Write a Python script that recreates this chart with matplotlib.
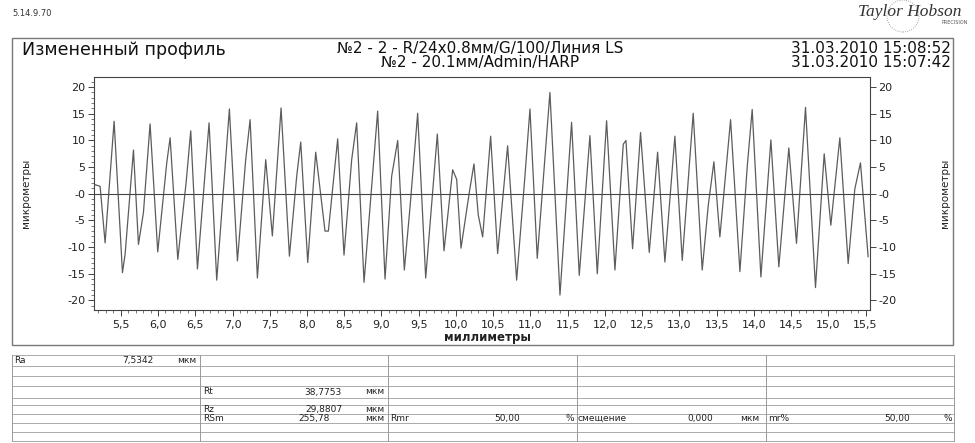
import matplotlib
matplotlib.use('Agg')
import matplotlib.pyplot as plt
from matplotlib.patches import Rectangle, Circle
from matplotlib.lines import Line2D
from matplotlib.ticker import MultipleLocator

# профиль (мм, мкм)
profile_x = [5.155, 5.222, 5.289, 5.410, 5.522, 5.558, 5.670, 5.737, 5.804, 5.893,
             5.996, 6.117, 6.162, 6.265, 6.377, 6.439, 6.529, 6.685, 6.788, 6.958,
             7.066, 7.177, 7.236, 7.334, 7.446, 7.535, 7.652, 7.764, 7.862, 7.916,
             8.010, 8.117, 8.242, 8.287, 8.412, 8.497, 8.600, 8.667, 8.766, 8.949,
             9.048, 9.137, 9.218, 9.307, 9.383, 9.486, 9.594, 9.750, 9.840, 9.956,
             10.010, 10.068, 10.180, 10.242, 10.300, 10.359, 10.466, 10.560, 10.694, 10.815,
             10.927, 10.994, 11.092, 11.262, 11.397, 11.553, 11.656, 11.799, 11.898, 12.023,
             12.135, 12.247, 12.283, 12.372, 12.479, 12.596, 12.708, 12.806, 12.940, 13.039,
             13.186, 13.307, 13.388, 13.464, 13.544, 13.688, 13.813, 13.911, 13.978, 14.095,
             14.229, 14.336, 14.470, 14.573, 14.694, 14.828, 14.945, 15.034, 15.155, 15.267,
             15.356, 15.432, 15.535]
profile_y = [1.7, 1.4, -9.2, 13.6, -14.8, -11.3, 8.2, -9.5, -3.5, 13.1,
             -10.9, 5.8, 10.5, -12.3, 2.1, 11.8, -14.1, 13.3, -16.2, 15.9,
             -12.6, 6.4, 13.9, -15.8, 6.4, -7.9, 16.1, -11.7, 3.3, 9.7,
             -12.9, 7.8, -7.0, -7.0, 10.3, -11.5, 6.4, 13.3, -16.6, 15.5,
             -16.0, 3.3, 10.0, -14.3, -2.6, 15.1, -15.8, 11.2, -10.7, 4.5,
             2.7, -10.2, 0.3, 5.6, -4.0, -8.1, 10.8, -11.2, 9.0, -16.2,
             3.4, 15.9, -12.1, 19.0, -19.0, 13.4, -15.3, 10.9, -15.0, 13.7,
             -14.3, 9.3, 10.0, -10.3, 11.5, -11.0, 7.8, -12.8, 10.8, -12.5,
             15.1, -14.3, -2.2, 6.0, -8.1, 13.9, -14.6, 5.0, 15.8, -15.6,
             10.1, -13.7, 8.6, -9.3, 16.2, -17.6, 7.5, -5.9, 10.5, -13.1,
             0.9, 5.8, -11.8]

x_ticks = [5.5, 6.0, 6.5, 7.0, 7.5, 8.0, 8.5, 9.0, 9.5, 10.0, 10.5,
           11.0, 11.5, 12.0, 12.5, 13.0, 13.5, 14.0, 14.5, 15.0, 15.5]
x_labels = ['5,5', '6,0', '6,5', '7,0', '7,5', '8,0', '8,5', '9,0', '9,5', '10,0', '10,5',
            '11,0', '11,5', '12,0', '12,5', '13,0', '13,5', '14,0', '14,5', '15,0', '15,5']
y_ticks = [-20, -15, -10, -5, 0, 5, 10, 15, 20]
y_labels = ['-20', '-15', '-10', '-5', '-0', '5', '10', '15', '20']

# таблица параметров: (строка, x, текст, выравнивание)
table_cells = [
    (0, 14, 'Ra', 'left'), (0, 153, '7,5342', 'right'), (0, 177, 'мкм', 'left'),
    (3, 203, 'Rt', 'left'), (3, 342, '38,7753', 'right'), (3, 365, 'мкм', 'left'),
    (5, 203, 'Rz', 'left'), (5, 342, '29,8807', 'right'), (5, 365, 'мкм', 'left'),
    (6, 203, 'RSm', 'left'), (6, 330, '255,78', 'right'), (6, 365, 'мкм', 'left'),
    (6, 390, 'Rmr', 'left'), (6, 520, '50,00', 'right'), (6, 574, '%', 'right'),
    (6, 578, 'смещение', 'left'), (6, 713, '0,000', 'right'), (6, 740, 'мкм', 'left'),
    (6, 768, 'mr%', 'left'), (6, 910, '50,00', 'right'), (6, 952, '%', 'right'),
]
row_lines = [355, 366, 376, 386, 398, 405, 414, 423, 432, 441]
col_lines = [12, 200, 388, 577, 766, 954]

W, H = 975, 443


def fx(x):
    return x / W


def fy(y):
    return 1 - y / H


plt.rcParams['font.family'] = ['DejaVu Sans']
fig = plt.figure(figsize=(W / 100, H / 100), dpi=100)

ax = fig.add_axes([fx(94), fy(310), fx(870) - fx(94), fy(77) - fy(310)])
ax.plot(profile_x, profile_y, color='#5c5c5c', lw=0.9)
ax.axhline(0, color='#444444', lw=0.8)
ax.set_xlim(5.14, 15.56)
ax.set_ylim(-21.8, 21.9)
ax.set_xticks(x_ticks)
ax.set_xticklabels(x_labels)
ax.xaxis.set_minor_locator(MultipleLocator(0.1))
ax.set_yticks(y_ticks)
ax.set_yticklabels(y_labels)
ax.yaxis.set_minor_locator(MultipleLocator(1))
ax.tick_params(which='both', direction='out', colors='#444444', labelcolor='#222222', labelsize=8)
ax.tick_params(axis='y', right=True, labelright=True, pad=1.5)
ax.tick_params(axis='x', pad=2.5)
ax.tick_params(which='major', length=4.5, width=0.7)
ax.tick_params(which='minor', length=2.2, width=0.5)
for s in ax.spines.values():
    s.set_color('#444444')
    s.set_linewidth(0.8)

ax.set_xlabel('миллиметры', fontsize=8.5, fontweight='bold', color='#222222', labelpad=1)
ax.xaxis.set_label_coords((487 - 94) / (870 - 94), -0.09)
fig.text(fx(26), fy(193), 'микрометры', rotation=90, fontsize=7.5, ha='center', va='center', color='#222222')
fig.text(fx(945), fy(193), 'микрометры', rotation=90, fontsize=7.5, ha='center', va='center', color='#222222')

# рамка и заголовки
fig.add_artist(Rectangle((fx(12), fy(345)), fx(953) - fx(12), fy(38) - fy(345),
                         transform=fig.transFigure, fill=False, ec='#777777', lw=1))
fig.text(fx(22), fy(50), 'Измененный профиль', fontsize=12.5, ha='left', va='center', color='#111111')
fig.text(fx(480), fy(55.5), '№2 - 2 - R/24x0.8мм/G/100/Линия LS\n№2 - 20.1мм/Admin/HARP',
         fontsize=11, ha='center', va='center', multialignment='center', linespacing=0.93, color='#111111')
fig.text(fx(951), fy(55.5), '31.03.2010 15:08:52\n31.03.2010 15:07:42',
         fontsize=11, ha='right', va='center', multialignment='right', linespacing=0.93, color='#111111')

fig.text(fx(12), fy(14), '5.14.9.70', fontsize=6, ha='left', va='center', color='#333333')
fig.text(fx(910), fy(12), 'Taylor Hobson', fontsize=12.5, family='Liberation Serif', style='italic',
         ha='center', va='center', color='#333333')
fig.text(fx(968), fy(23), 'PRECISION', fontsize=3.5, ha='right', va='center', color='#555555')
fig.add_artist(Circle((903 / 100, (H - 16) / 100), 0.16, transform=fig.dpi_scale_trans,
                      fill=False, ec='#888888', lw=0.6, ls=':'))

# таблица
for y in row_lines:
    fig.add_artist(Line2D([fx(12), fx(954)], [fy(y), fy(y)], transform=fig.transFigure, color='#aaaaaa', lw=0.7))
for x in col_lines:
    fig.add_artist(Line2D([fx(x), fx(x)], [fy(row_lines[0]), fy(row_lines[-1])], transform=fig.transFigure,
                          color='#999999', lw=0.7))
for row, x, s, ha in table_cells:
    yc = (row_lines[row] + row_lines[row + 1]) / 2
    fig.text(fx(x), fy(yc), s, fontsize=6.5, ha=ha, va='center', color='#222222')

fig.savefig('out.png', dpi=100)
